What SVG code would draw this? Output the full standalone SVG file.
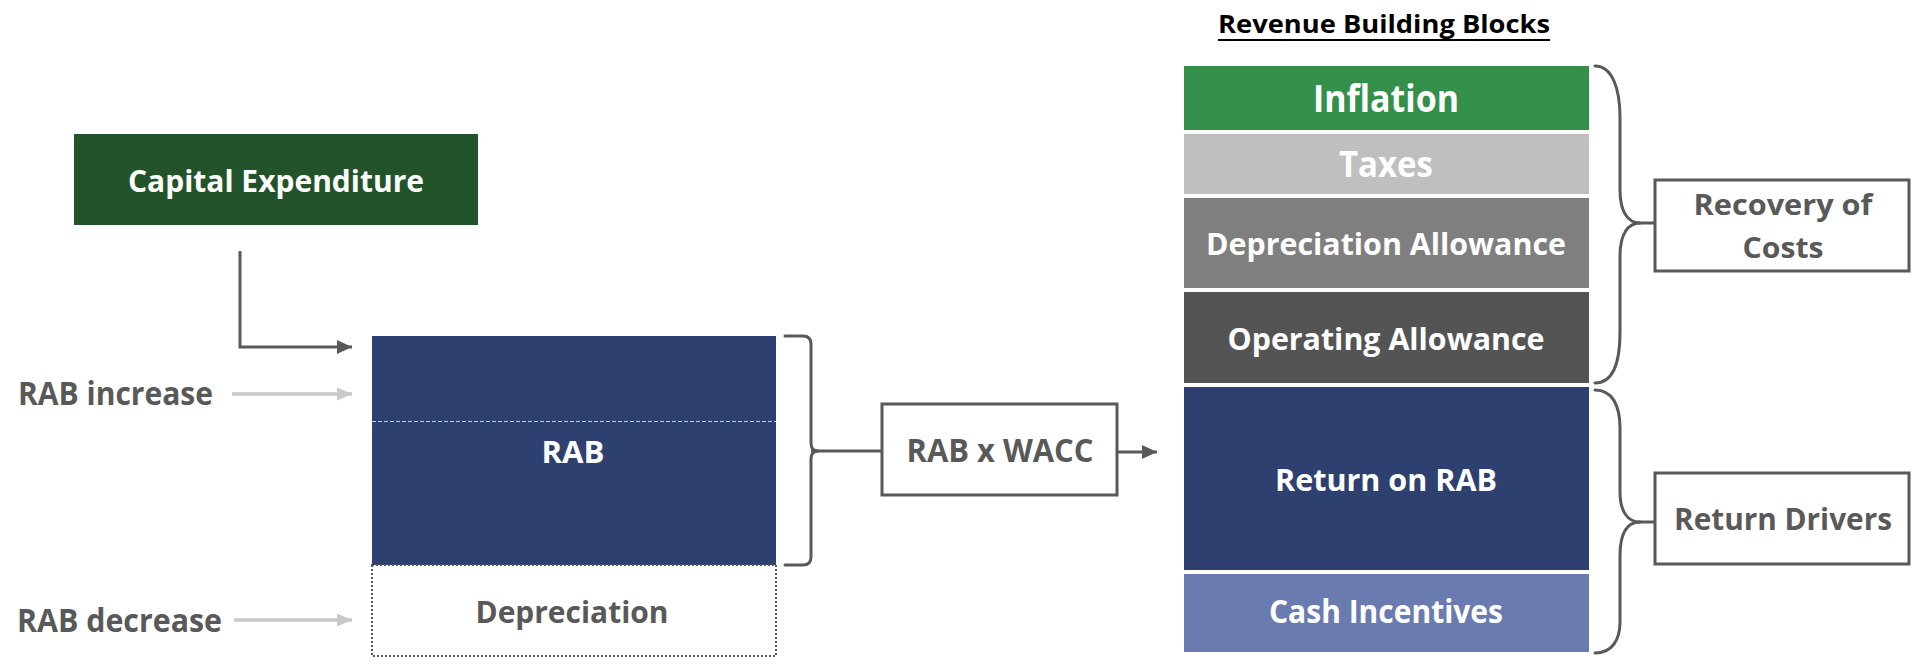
<svg xmlns="http://www.w3.org/2000/svg" width="1911" height="663" viewBox="0 0 1911 663">
  <style>
    text { font-family: "Open Sans", "Liberation Sans", sans-serif; font-weight: 700; }
    .w { fill: #ffffff; }
    .g { fill: #595959; }
    .mid { text-anchor: middle; }
    .frame { fill: #ffffff; stroke: #595959; stroke-width: 3; }
    .conn { fill: none; stroke: #595959; stroke-width: 3; }
    .light { fill: none; stroke: #C9C9C9; stroke-width: 3.5; }
    .brace { fill: none; stroke: #595959; stroke-width: 3; stroke-linecap: round; stroke-linejoin: round; }
  </style>
  <defs>
    <marker id="arrDark" markerUnits="userSpaceOnUse" markerWidth="16" markerHeight="14" refX="15" refY="7" orient="auto">
      <path d="M0,0 L15,7 L0,14 Z" fill="#595959"/>
    </marker>
    <marker id="arrLight" markerUnits="userSpaceOnUse" markerWidth="16" markerHeight="14" refX="15" refY="7" orient="auto">
      <path d="M0,0.5 L15,7 L0,13.5 Z" fill="#C9C9C9"/>
    </marker>
  </defs>

  <rect width="1911" height="663" fill="#ffffff"/>

  <!-- left side: asset base build-up -->
  <g id="capex">
    <rect x="74" y="134" width="404" height="91" fill="#22532B"/>
    <text class="w mid" x="276" y="192" font-size="30" textLength="296" lengthAdjust="spacingAndGlyphs">Capital Expenditure</text>
  </g>

  <g id="rab-increase">
    <text class="g" x="18" y="405" font-size="32" textLength="195" lengthAdjust="spacingAndGlyphs">RAB increase</text>
  </g>

  <g id="rab-decrease">
    <text class="g" x="17" y="632" font-size="32" textLength="205" lengthAdjust="spacingAndGlyphs">RAB decrease</text>
  </g>

  <g id="rab">
    <rect x="372" y="336" width="404" height="229" fill="#2E4070"/>
    <line x1="372" y1="421.5" x2="776" y2="421.5" stroke="#C9CDD8" stroke-width="1.2" stroke-dasharray="4 2"/>
    <text class="w mid" x="573" y="463" font-size="30" textLength="63" lengthAdjust="spacingAndGlyphs">RAB</text>
  </g>

  <g id="depreciation">
    <rect x="372" y="565" width="404" height="91" fill="#ffffff" stroke="#595959" stroke-width="2" stroke-dasharray="2 2"/>
    <text class="g mid" x="572" y="623" font-size="31" textLength="193" lengthAdjust="spacingAndGlyphs">Depreciation</text>
  </g>

  <g id="rab-x-wacc">
    <rect class="frame" x="882" y="404" width="235" height="91"/>
    <text class="g mid" x="1000" y="462" font-size="32" textLength="187" lengthAdjust="spacingAndGlyphs">RAB x WACC</text>
  </g>

  <!-- right side: revenue building blocks -->
  <g id="title">
    <text x="1218" y="33" font-size="25" fill="#000000" textLength="332" lengthAdjust="spacingAndGlyphs">Revenue Building Blocks</text>
    <line x1="1218" y1="40" x2="1550" y2="40" stroke="#000000" stroke-width="2"/>
  </g>

  <g id="inflation">
    <rect x="1184" y="66" width="405" height="64" fill="#348F4A"/>
    <text class="w mid" x="1386" y="112" font-size="37" textLength="146" lengthAdjust="spacingAndGlyphs">Inflation</text>
  </g>

  <g id="taxes">
    <rect x="1184" y="134" width="405" height="60" fill="#BFBFBF"/>
    <text class="w mid" x="1386" y="177" font-size="35" textLength="94" lengthAdjust="spacingAndGlyphs">Taxes</text>
  </g>

  <g id="depreciation-allowance">
    <rect x="1184" y="198" width="405" height="90" fill="#7F7F7F"/>
    <text class="w mid" x="1386" y="255" font-size="30" textLength="360" lengthAdjust="spacingAndGlyphs">Depreciation Allowance</text>
  </g>

  <g id="operating-allowance">
    <rect x="1184" y="292" width="405" height="91" fill="#545454"/>
    <text class="w mid" x="1386" y="350" font-size="30" textLength="317" lengthAdjust="spacingAndGlyphs">Operating Allowance</text>
  </g>

  <g id="return-on-rab">
    <rect x="1184" y="387" width="405" height="183" fill="#2E4070"/>
    <text class="w mid" x="1386" y="491" font-size="31" textLength="222" lengthAdjust="spacingAndGlyphs">Return on RAB</text>
  </g>

  <g id="cash-incentives">
    <rect x="1184" y="574" width="405" height="78" fill="#6A7BB0"/>
    <text class="w mid" x="1386" y="623" font-size="32" textLength="234" lengthAdjust="spacingAndGlyphs">Cash Incentives</text>
  </g>

  <g id="recovery-of-costs">
    <rect class="frame" x="1655" y="180" width="254" height="91"/>
    <text class="g mid" x="1783" y="215" font-size="29" textLength="179" lengthAdjust="spacingAndGlyphs">Recovery of</text>
    <text class="g mid" x="1783" y="258" font-size="29" textLength="81" lengthAdjust="spacingAndGlyphs">Costs</text>
  </g>

  <g id="return-drivers">
    <rect class="frame" x="1655" y="473" width="254" height="91"/>
    <text class="g mid" x="1783" y="530" font-size="30" textLength="218" lengthAdjust="spacingAndGlyphs">Return Drivers</text>
  </g>

  <!-- connectors and braces -->
  <g id="connectors">
    <path class="conn" d="M240,251 V347 H352" marker-end="url(#arrDark)"/>
    <path class="light" d="M232,394 H352" marker-end="url(#arrLight)"/>
    <path class="light" d="M234,620 H352" marker-end="url(#arrLight)"/>

    <path class="brace" d="M785,336 H803 Q811,336 811,344 V443 Q811,451 818,451 Q811,451 811,459 V557 Q811,565 803,565 H785"/>
    <path class="conn" d="M811,451 H882"/>
    <path class="conn" d="M1117,452 H1157" marker-end="url(#arrDark)"/>

    <path class="brace" d="M1595,66 C1612,66 1620,88 1620,118 V190 C1620,212 1628,223 1640,223 C1628,223 1620,234 1620,256 V332 C1620,364 1612,383 1595,383"/>
    <path class="conn" d="M1638,223 H1655"/>

    <path class="brace" d="M1595,390 C1612,390 1620,405 1620,428 V492 C1620,512 1628,522 1640,522 C1628,522 1620,532 1620,556 V622 C1620,640 1612,653 1595,653"/>
    <path class="conn" d="M1638,522 H1655"/>
  </g>
</svg>
